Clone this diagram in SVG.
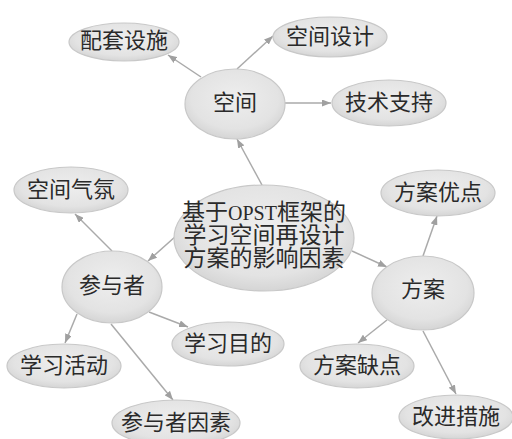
<svg xmlns="http://www.w3.org/2000/svg" width="512" height="439" viewBox="0 0 512 439">
<defs>
<radialGradient id="g" cx="50%" cy="42%" r="58%">
<stop offset="0" stop-color="#eeeeee"/>
<stop offset="0.75" stop-color="#e3e3e3"/>
<stop offset="1" stop-color="#d5d5d5"/>
</radialGradient>
<marker id="ah" viewBox="0 0 9 7" refX="9" refY="3.5" markerWidth="9" markerHeight="7" markerUnits="userSpaceOnUse" orient="auto">
<path d="M0,0 L9,3.5 L0,7 z" fill="#a0a0a0"/>
</marker>
<style>
.n ellipse{fill:url(#g);stroke:#c8c8c8;stroke-width:1.2}
.n text{font-family:"Liberation Serif","Noto Sans CJK SC",serif;font-size:22px;fill:#2a2a2a;text-anchor:middle}
.c line{stroke:#aaaaaa;stroke-width:1.5;marker-end:url(#ah)}
</style>
</defs>
<rect width="512" height="439" fill="#ffffff"/>
<g class="c" id="connectors">
<line x1="201" y1="77" x2="168" y2="55"/>
<line x1="237" y1="69" x2="273" y2="36"/>
<line x1="285" y1="103" x2="331" y2="103"/>
<line x1="262" y1="185" x2="237" y2="139"/>
<line x1="176" y1="236" x2="148" y2="261"/>
<line x1="352" y1="251" x2="387" y2="267"/>
<line x1="112" y1="251" x2="75" y2="214"/>
<line x1="77" y1="314" x2="65" y2="343"/>
<line x1="149" y1="312" x2="188" y2="327"/>
<line x1="111" y1="324" x2="173" y2="400"/>
<line x1="423" y1="256" x2="437" y2="216"/>
<line x1="387" y1="320" x2="358" y2="343"/>
<line x1="423" y1="331" x2="456" y2="394"/>
</g>
<g class="n" id="n-center"><ellipse cx="264" cy="238" rx="90" ry="53"/>
<text x="264" y="220" style="font-size:23px">基于<tspan style="font-size:20px">OPST</tspan>框架的</text>
<text x="264" y="243" style="font-size:23px">学习空间再设计</text>
<text x="264" y="266" style="font-size:23px">方案的影响因素</text></g>
<g class="n" id="n-kongjian"><ellipse cx="235" cy="104" rx="50" ry="35"/><text x="235" y="110">空间</text></g>
<g class="n" id="n-peitao"><ellipse cx="124" cy="42" rx="55" ry="19"/><text x="124" y="48">配套设施</text></g>
<g class="n" id="n-sheji"><ellipse cx="330" cy="37" rx="57" ry="20"/><text x="330" y="44">空间设计</text></g>
<g class="n" id="n-jishu"><ellipse cx="389" cy="103" rx="57" ry="23"/><text x="389" y="110">技术支持</text></g>
<g class="n" id="n-qifen"><ellipse cx="71" cy="190" rx="57" ry="23"/><text x="71" y="197">空间气氛</text></g>
<g class="n" id="n-youdian"><ellipse cx="438" cy="193" rx="57" ry="23"/><text x="438" y="200">方案优点</text></g>
<g class="n" id="n-canyu"><ellipse cx="112" cy="287" rx="50" ry="36"/><text x="112" y="293">参与者</text></g>
<g class="n" id="n-fangan"><ellipse cx="423" cy="293" rx="51" ry="37"/><text x="423" y="297">方案</text></g>
<g class="n" id="n-mudi"><ellipse cx="228" cy="344" rx="56" ry="22"/><text x="228" y="351">学习目的</text></g>
<g class="n" id="n-huodong"><ellipse cx="64" cy="366" rx="57" ry="22"/><text x="64" y="373">学习活动</text></g>
<g class="n" id="n-quedian"><ellipse cx="357" cy="366" rx="57" ry="22"/><text x="357" y="373">方案缺点</text></g>
<g class="n" id="n-yinsu"><ellipse cx="176" cy="423" rx="64" ry="23"/><text x="176" y="430">参与者因素</text></g>
<g class="n" id="n-gaijin"><ellipse cx="456" cy="417" rx="57" ry="22"/><text x="456" y="424">改进措施</text></g>
</svg>
